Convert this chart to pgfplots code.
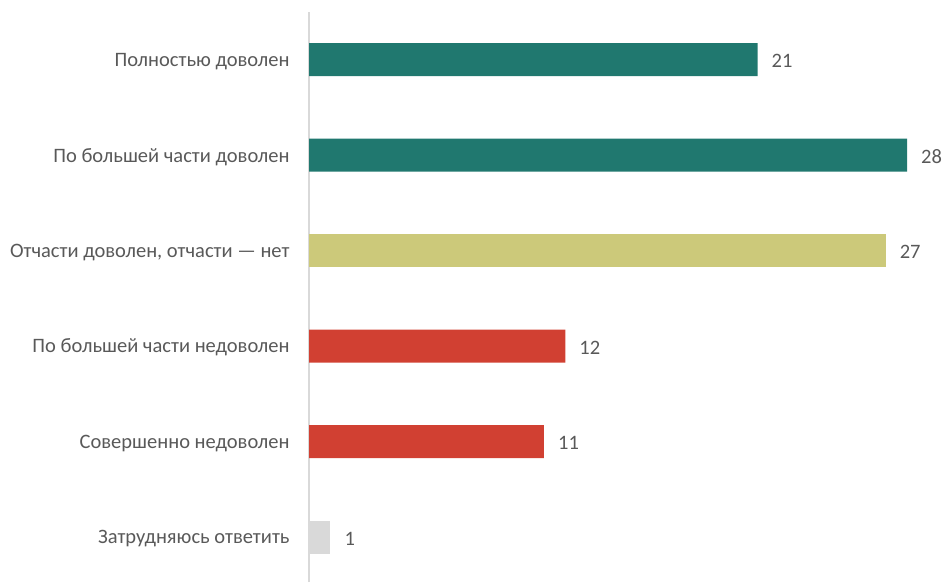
\documentclass[border=0pt]{standalone}
\usepackage{pgfplots}
\pgfplotsset{compat=1.18}
\usepackage{fontspec}
\setmainfont{Carlito}
\definecolor{cteal}{HTML}{20786F}
\definecolor{colive}{HTML}{CCC97A}
\definecolor{cred}{HTML}{D14032}
\definecolor{cgrey}{HTML}{D9D9D9}
\definecolor{ctext}{HTML}{595959}
\begin{document}
\begin{tikzpicture}
\useasboundingbox (0pt,0pt) rectangle (942pt,582pt);
\begin{axis}[
  at={(309pt,0pt)}, anchor=south west,
  scale only axis, width=598pt, height=570pt,
  xbar, bar shift=0pt, bar width=33pt,
  xmin=0, xmax=28, ymin=-0.47, ymax=5.5,
  clip=false,
  axis x line=none,
  axis y line*=left,
  y axis line style={draw=cgrey, line width=2pt, -},
  ytick={0,1,2,3,4,5},
  yticklabels={Затрудняюсь ответить, Совершенно недоволен, По большей части недоволен, {Отчасти доволен, отчасти — нет}, По большей части доволен, Полностью доволен},
  ytick style={draw=none},
  yticklabel style={font=\fontsize{20.5}{24}\selectfont, text=ctext, inner sep=0pt, xshift=-15pt, yshift=-1.5pt},
  /pgf/number format/assume math mode=true,
  nodes near coords,
  nodes near coords style={font=\fontsize{20.5}{24}\selectfont, text=ctext, inner sep=0pt, xshift=14pt, yshift=-1.5pt},
  every axis plot/.append style={draw=none},
]
\addplot[fill=cteal] coordinates {(21,5) (28,4)};
\addplot[fill=colive] coordinates {(27,3)};
\addplot[fill=cred] coordinates {(12,2) (11,1)};
\addplot[fill=cgrey] coordinates {(1,0)};
\end{axis}
\end{tikzpicture}
\end{document}
